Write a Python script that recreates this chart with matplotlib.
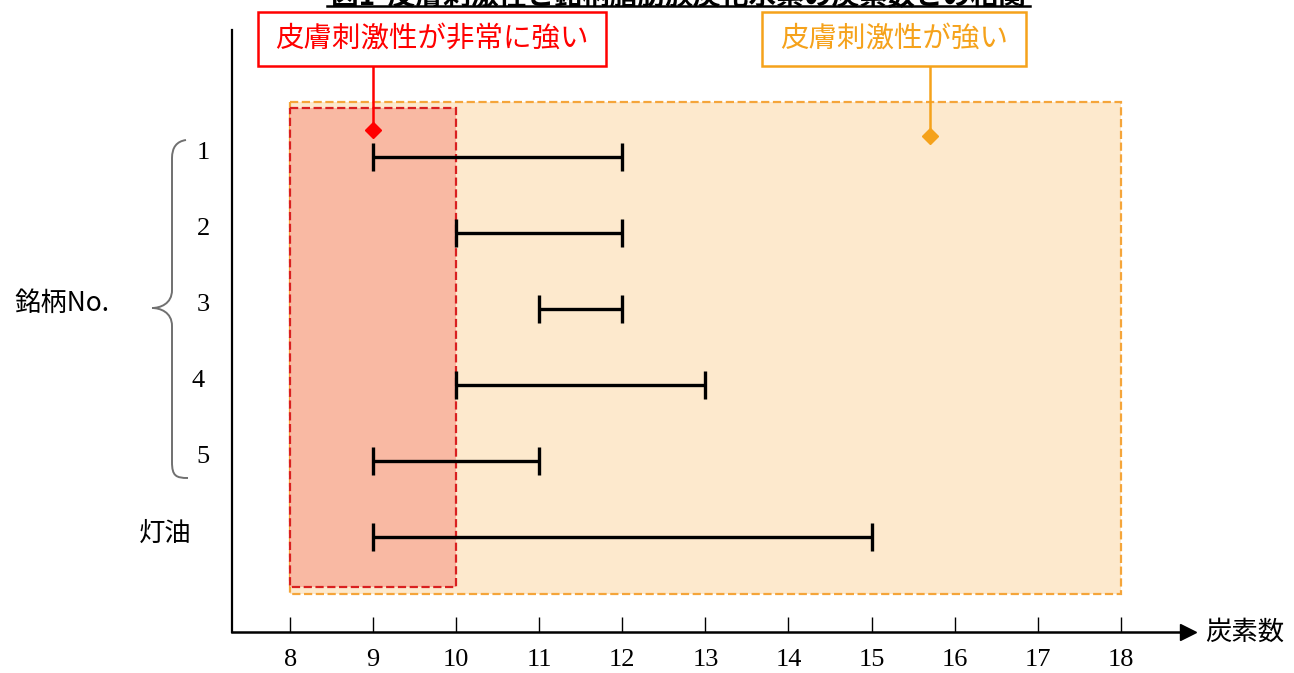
"""Carbon number ranges of each brand vs. skin irritation zones."""

import matplotlib.pyplot as plt
from matplotlib.patches import Rectangle, PathPatch
from matplotlib.path import Path
from matplotlib.transforms import blended_transform_factory

plt.rcParams["font.family"] = ["Noto Sans CJK JP", "DejaVu Sans"]

ROW_LABELS = ["1", "2", "3", "4", "5", "灯油"]
CARBON_MIN = [9, 10, 11, 10, 9, 9]
CARBON_MAX = [12, 12, 12, 13, 11, 15]
X_TICKS = [8, 9, 10, 11, 12, 13, 14, 15, 16, 17, 18]

STRONG_ZONE = (8, 18)        # 皮膚刺激性が強い
VERY_STRONG_ZONE = (8, 10)   # 皮膚刺激性が非常に強い

TITLE = "図1  皮膚刺激性と銘柄脂肪族炭化水素の炭素数との相関"

W, H = 1294, 673
RED = "#e31b1b"
ORANGE = "#f5a21b"


def px(x, y):
    # figure pixel (top-left origin) -> figure fraction
    return x / W, 1 - y / H


def callout(text, color, box_x0, box_x1, arrow_x, tip_y):
    # box drawn in figure pixels, vertical pointer down to a diamond in data coords
    x0, y1 = px(box_x0, 12)
    x1, y0 = px(box_x1, 66)
    fig.add_artist(Rectangle((x0, y0), x1 - x0, y1 - y0, transform=fig.transFigure,
                             facecolor="white", edgecolor=color, linewidth=1.8, zorder=5))
    fig.text((x0 + x1) / 2, (y0 + y1) / 2, text, ha="center", va="center",
             fontsize=20.5, color=color, zorder=6)
    top = ax.transData.inverted().transform(fig.transFigure.transform((0, y0)))[1]
    ax.plot([arrow_x, arrow_x], [top, tip_y], color=color, linewidth=1.8, clip_on=False, zorder=5)
    ax.plot(arrow_x, tip_y, marker="D", color=color, markersize=8, zorder=6)


fig = plt.figure(figsize=(W / 100, H / 100), dpi=100)
left, bottom = px(232, 632)
right, top = px(1188, 30)
ax = fig.add_axes([left, bottom, right - left, top - bottom])

rows = list(range(1, len(ROW_LABELS) + 1))
ax.set_xlim(7.30, 18.81)
ax.set_ylim(7.25, -0.671)

# shaded zones
ax.add_patch(Rectangle((STRONG_ZONE[0], 0.276), STRONG_ZONE[1] - STRONG_ZONE[0], 6.75 - 0.276,
                       facecolor="#fde9cd", edgecolor="#f5a53a", linestyle="--", linewidth=1.6, zorder=1))
ax.add_patch(Rectangle((VERY_STRONG_ZONE[0], 0.355), VERY_STRONG_ZONE[1] - VERY_STRONG_ZONE[0], 6.66 - 0.355,
                       facecolor="#f9b9a3", edgecolor="#d92020", linestyle="--", linewidth=1.6, zorder=2))

# range bars
for r, lo, hi in zip(rows, CARBON_MIN, CARBON_MAX):
    mid = (lo + hi) / 2
    ax.errorbar(mid, r, xerr=[[mid - lo], [hi - mid]], fmt="none", ecolor="black",
                elinewidth=2.4, capsize=10, capthick=2.4, zorder=4)

callout("皮膚刺激性が非常に強い", "red", 258, 606, 9, 0.64)
callout("皮膚刺激性が強い", ORANGE, 762, 1026, 15.70, 0.73)

# axes styling
for side in ["top", "right"]:
    ax.spines[side].set_visible(False)
ax.spines["left"].set_linewidth(1.6)
ax.spines["bottom"].set_linewidth(1.8)
ax.plot(1, 0, marker=">", color="black", markersize=11, transform=ax.transAxes, clip_on=False)
ax.set_yticks([])
ax.set_xticks(X_TICKS)
ax.set_xticklabels([str(t) for t in X_TICKS], family=["Liberation Serif", "DejaVu Serif"], fontsize=19)
ax.tick_params(axis="x", direction="in", length=11, width=1, pad=12)

fig.text(*px(1205, 632), "炭素数", ha="left", va="center", fontsize=19)

# row labels
trans = blended_transform_factory(fig.transFigure, ax.transData)
for r, label in zip(rows, ROW_LABELS):
    if label == "灯油":
        fig.text(165 / W, r - 0.05, label, transform=trans, ha="center", va="center", fontsize=19)
    else:
        xpos = 198 if label == "4" else 203
        fig.text(xpos / W, r - 0.05, label, transform=trans, ha="center", va="center",
                 fontsize=19, family=["Liberation Serif", "DejaVu Serif"])
fig.text(*px(62, 303), "銘柄No.", ha="center", va="center", fontsize=19)

# curly brace around brand numbers
verts = [px(186, 140), px(172, 142), px(172, 158),
         px(172, 290),
         px(172, 304), px(160, 308), px(152, 308),
         px(160, 308), px(172, 312), px(172, 326),
         px(172, 462),
         px(172, 476), px(176, 478), px(188, 478)]
codes = [Path.MOVETO, Path.CURVE3, Path.CURVE3,
         Path.LINETO,
         Path.CURVE4, Path.CURVE4, Path.CURVE4,
         Path.CURVE4, Path.CURVE4, Path.CURVE4,
         Path.LINETO,
         Path.CURVE4, Path.CURVE4, Path.CURVE4]
fig.add_artist(PathPatch(Path(verts, codes), facecolor="none", edgecolor="#707070",
                         linewidth=1.4, transform=fig.transFigure))

# title, cut off at the top edge as in the source
fig.text(*px(678, 4), TITLE, ha="center", va="baseline", fontsize=20, fontweight="bold")
fig.add_artist(plt.Line2D([327 / W, 1030 / W], [1 - 6 / H, 1 - 6 / H], color="black",
                          linewidth=1.8, transform=fig.transFigure))

fig.savefig("out.png", dpi=100)
